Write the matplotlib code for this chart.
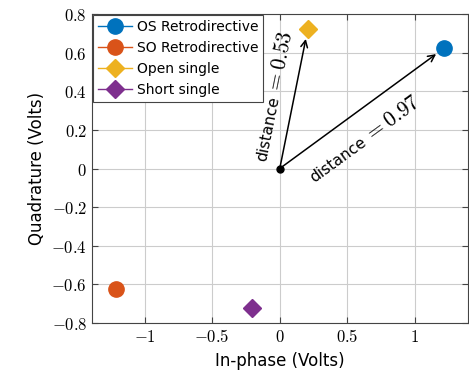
import numpy as np
import matplotlib.pyplot as plt

plt.rcParams['mathtext.fontset'] = 'cm'

# measured constellation points (Volts)
labels = ["OS Retrodirective", "SO Retrodirective", "Open single", "Short single"]
x_vals = [1.215, -1.21, 0.207, -0.205]
y_vals = [0.622, -0.622, 0.72, -0.72]
markers = ['o', 'o', 'D', 'D']
colors = ['#0072BD', '#D95319', '#EDB120', '#7E2F8E']
dist_labels = ["0.97", "0.53"]

fig = plt.figure(figsize=(4.69, 3.77), dpi=100)
ax = fig.add_axes([0.196, 0.143, 0.801, 0.82])

for x, y, lab, mk, c in zip(x_vals, y_vals, labels, markers, colors):
    ms = 11 if mk == 'o' else 9
    ax.plot([x], [y], marker=mk, color=c, markersize=ms, linestyle='-',
            linewidth=1, label=lab, zorder=3)

# arrows from origin
for i in [0, 2]:
    ax.annotate('', xy=(x_vals[i], y_vals[i]), xytext=(0, 0),
                arrowprops=dict(arrowstyle='->', color='black', lw=1.1,
                                shrinkA=0, shrinkB=7, mutation_scale=12))
ax.plot([0], [0], 'o', color='black', markersize=5, zorder=4)


def dist_text(xy, angle, value):
    # "distance" in sans, "= value" in math, joined on a shared baseline
    d = np.array([np.cos(np.radians(angle)), np.sin(np.radians(angle))])
    ax.annotate("distance", xy=xy, xytext=tuple(-1.0 * d), textcoords='offset points',
                rotation=angle, rotation_mode='anchor', ha='right', va='baseline',
                fontsize=11.2)
    ax.annotate(r"$= %s$" % value, xy=xy, xytext=tuple(1.0 * d), textcoords='offset points',
                rotation=angle, rotation_mode='anchor', ha='left', va='baseline',
                fontsize=15.5)


dist_text((0.0, 0.375), 78.6, dist_labels[1])
dist_text((0.655, 0.13), 36, dist_labels[0])

ax.set_xlim(-1.39, 1.39)
ax.set_ylim(-0.8, 0.8)
ax.set_xticks([-1, -0.5, 0, 0.5, 1])
ax.set_xticklabels([r"$-1$", r"$-0.5$", r"$0$", r"$0.5$", r"$1$"])
yt = np.arange(-0.8, 0.81, 0.2)
ax.set_yticks(yt)
ax.set_yticklabels([r"$%s$" % ("0" if abs(v) < 1e-9 else "%.1f" % v) for v in yt])
ax.tick_params(direction='in', top=True, right=True, labelsize=12, length=4,
               color='#444444')
ax.grid(True, color='#cccccc', linewidth=0.8)
ax.set_axisbelow(True)
for s in ax.spines.values():
    s.set_color('#444444')

ax.set_xlabel("In-phase (Volts)", fontsize=12)
ax.set_ylabel("Quadrature (Volts)", fontsize=12)

leg = ax.legend(loc='upper left', fontsize=10, fancybox=False, framealpha=1,
                edgecolor='#444444', borderaxespad=0.1, handlelength=2.4,
                handletextpad=0.4, labelspacing=0.5, borderpad=0.35)
leg.get_frame().set_linewidth(0.8)

fig.savefig("out.png", dpi=100)
